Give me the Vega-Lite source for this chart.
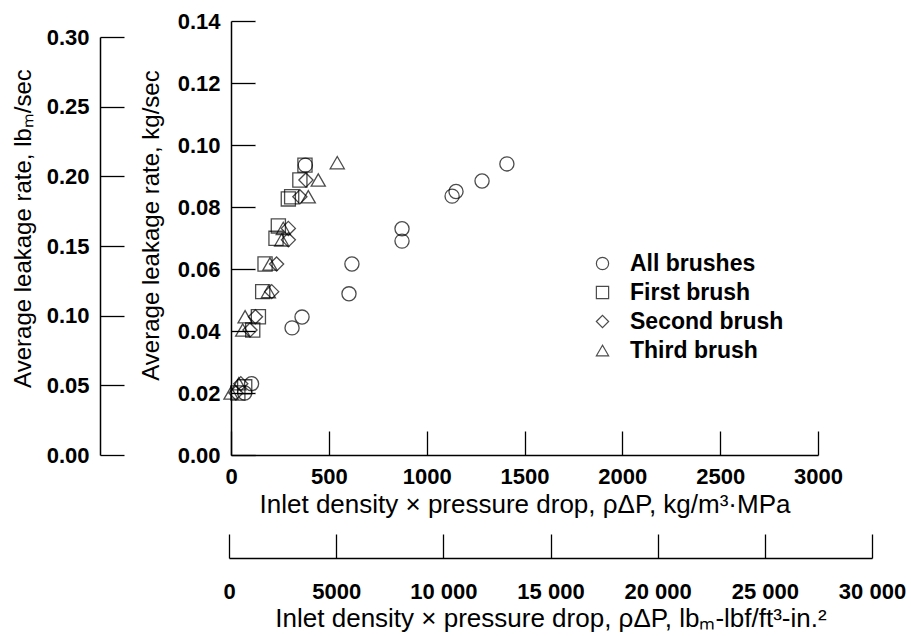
{
  "$schema": "https://vega.github.io/schema/vega-lite/v6.json",
  "width": 587,
  "height": 434,
  "autosize": "none",
  "padding": {"left": 231, "top": 21, "right": 93, "bottom": 181},
  "background": "white",
  "config": {
    "view": {"stroke": null},
    "font": "Liberation Sans",
    "axis": {
      "grid": false,
      "domainColor": "black",
      "domainWidth": 1.5,
      "tickColor": "black",
      "tickWidth": 1.3,
      "tickSize": -24,
      "labelPadding": 35,
      "labelColor": "black",
      "labelFont": "Liberation Sans",
      "labelFontSize": 22,
      "labelFontWeight": "bold",
      "labelOverlap": false,
      "labelFlush": false,
      "titleColor": "black",
      "titleFont": "Liberation Sans",
      "titleFontSize": 26,
      "titleFontWeight": "normal"
    },
    "legend": {
      "labelFont": "Liberation Sans",
      "labelFontSize": 23,
      "labelFontWeight": "bold",
      "labelColor": "black"
    }
  },
  "layer": [
    {
      "data": {
        "values": [
          {"series": "All brushes", "rho_dp": 70, "leak": 0.020},
          {"series": "All brushes", "rho_dp": 105, "leak": 0.023},
          {"series": "All brushes", "rho_dp": 312, "leak": 0.041},
          {"series": "All brushes", "rho_dp": 363, "leak": 0.0445},
          {"series": "All brushes", "rho_dp": 603, "leak": 0.052},
          {"series": "All brushes", "rho_dp": 618, "leak": 0.0616},
          {"series": "All brushes", "rho_dp": 874, "leak": 0.069},
          {"series": "All brushes", "rho_dp": 874, "leak": 0.073},
          {"series": "All brushes", "rho_dp": 1130, "leak": 0.0835},
          {"series": "All brushes", "rho_dp": 1150, "leak": 0.085},
          {"series": "All brushes", "rho_dp": 1283, "leak": 0.0884},
          {"series": "All brushes", "rho_dp": 1410, "leak": 0.0939},
          {"series": "All brushes", "rho_dp": 380, "leak": 0.0935},
          {"series": "First brush", "rho_dp": 35, "leak": 0.020},
          {"series": "First brush", "rho_dp": 70, "leak": 0.022},
          {"series": "First brush", "rho_dp": 111, "leak": 0.0403},
          {"series": "First brush", "rho_dp": 140, "leak": 0.0446},
          {"series": "First brush", "rho_dp": 162, "leak": 0.0527},
          {"series": "First brush", "rho_dp": 174, "leak": 0.0616},
          {"series": "First brush", "rho_dp": 230, "leak": 0.0699},
          {"series": "First brush", "rho_dp": 242, "leak": 0.0739},
          {"series": "First brush", "rho_dp": 293, "leak": 0.0826},
          {"series": "First brush", "rho_dp": 310, "leak": 0.0833},
          {"series": "First brush", "rho_dp": 352, "leak": 0.0887},
          {"series": "First brush", "rho_dp": 378, "leak": 0.0935},
          {"series": "Second brush", "rho_dp": 25, "leak": 0.020},
          {"series": "Second brush", "rho_dp": 50, "leak": 0.023},
          {"series": "Second brush", "rho_dp": 97, "leak": 0.0403},
          {"series": "Second brush", "rho_dp": 125, "leak": 0.0446},
          {"series": "Second brush", "rho_dp": 208, "leak": 0.0527},
          {"series": "Second brush", "rho_dp": 233, "leak": 0.0616},
          {"series": "Second brush", "rho_dp": 293, "leak": 0.0694},
          {"series": "Second brush", "rho_dp": 293, "leak": 0.0731},
          {"series": "Second brush", "rho_dp": 352, "leak": 0.0833},
          {"series": "Second brush", "rho_dp": 383, "leak": 0.0887},
          {"series": "Third brush", "rho_dp": 0, "leak": 0.020},
          {"series": "Third brush", "rho_dp": 40, "leak": 0.023},
          {"series": "Third brush", "rho_dp": 60, "leak": 0.0403},
          {"series": "Third brush", "rho_dp": 72, "leak": 0.0446},
          {"series": "Third brush", "rho_dp": 191, "leak": 0.0527},
          {"series": "Third brush", "rho_dp": 199, "leak": 0.0616},
          {"series": "Third brush", "rho_dp": 259, "leak": 0.0694},
          {"series": "Third brush", "rho_dp": 267, "leak": 0.0731},
          {"series": "Third brush", "rho_dp": 395, "leak": 0.0833},
          {"series": "Third brush", "rho_dp": 446, "leak": 0.0887},
          {"series": "Third brush", "rho_dp": 543, "leak": 0.0943}
        ]
      },
      "mark": {"type": "point", "filled": false, "color": "black", "strokeWidth": 1.3, "size": 200},
      "encoding": {
        "x": {
          "field": "rho_dp",
          "type": "quantitative",
          "scale": {"domain": [0, 3000], "nice": false, "zero": false},
          "axis": {
            "orient": "bottom",
            "values": [0, 500, 1000, 1500, 2000, 2500, 3000],
            "format": "d",
            "title": "Inlet density × pressure drop, ρΔP, kg/m³·MPa",
            "titlePadding": 4
          }
        },
        "y": {
          "field": "leak",
          "type": "quantitative",
          "scale": {"domain": [0, 0.14], "nice": false},
          "axis": {
            "orient": "left",
            "values": [0, 0.02, 0.04, 0.06, 0.08, 0.1, 0.12, 0.14],
            "format": ".2f",
            "title": "Average leakage rate, kg/sec",
            "titleFontSize": 24,
            "titleY": 204,
            "titlePadding": 14
          }
        },
        "shape": {
          "field": "series",
          "type": "nominal",
          "scale": {
            "domain": ["All brushes", "First brush", "Second brush", "Third brush"],
            "range": ["circle", "square", "diamond", "triangle-up"]
          },
          "legend": {
            "title": null,
            "orient": "none",
            "legendX": 360,
            "legendY": 231,
            "padding": 0,
            "rowPadding": 5,
            "labelOffset": 16,
            "symbolSize": 150,
            "symbolStrokeColor": "black",
            "symbolStrokeWidth": 1.2
          }
        }
      }
    },
    {
      "data": {"values": [{"lb_rate": 0}, {"lb_rate": 0.3}]},
      "mark": {"type": "point", "opacity": 0},
      "encoding": {
        "y": {
          "field": "lb_rate",
          "type": "quantitative",
          "scale": {"domain": [0, 0.3], "range": [434, 16], "nice": false},
          "axis": {
            "orient": "left",
            "offset": 131,
            "values": [0, 0.05, 0.1, 0.15, 0.2, 0.25, 0.3],
            "format": ".2f",
            "title": "Average leakage rate, lbₘ/sec",
            "titleFontSize": 24,
            "titleY": 207,
            "titlePadding": 11
          }
        }
      }
    },
    {
      "data": {"values": [{"lb_rho_dp": 0}, {"lb_rho_dp": 30000}]},
      "mark": {"type": "point", "opacity": 0},
      "encoding": {
        "x": {
          "field": "lb_rho_dp",
          "type": "quantitative",
          "scale": {"domain": [0, 30000], "range": [-2, 641], "nice": false},
          "axis": {
            "orient": "bottom",
            "offset": 103,
            "values": [0, 5000, 10000, 15000, 20000, 25000, 30000],
            "labelExpr": "datum.value >= 10000 ? replace(format(datum.value, ','), ',', ' ') : format(datum.value, 'd')",
            "labelPadding": 47,
            "title": "Inlet density × pressure drop, ρΔP, lbₘ-lbf/ft³-in.²",
            "titlePadding": 3
          }
        }
      }
    }
  ],
  "resolve": {
    "scale": {"x": "independent", "y": "independent"},
    "axis": {"x": "independent", "y": "independent"}
  }
}
